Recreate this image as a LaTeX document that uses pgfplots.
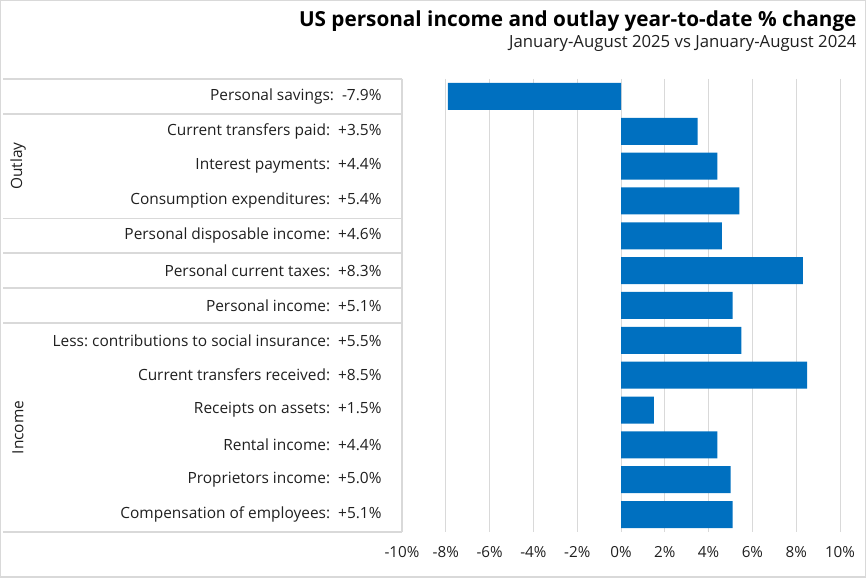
\documentclass[border=0pt]{standalone}
\usepackage{pgfplots}
\pgfplotsset{compat=1.18}
\usepackage{fontspec}
\setmainfont{Open Sans}
\frenchspacing
\definecolor{barblue}{HTML}{0070C0}
\definecolor{gridgray}{HTML}{D9D9D9}
\definecolor{txt}{HTML}{1F1F1F}

\begin{document}
\begin{tikzpicture}[x=1bp,y=1bp]
% outer chart border
\draw[gridgray, line width=1.5bp] (0.75,0.75) rectangle (865.25,577.25);
\node[anchor=east, font=\fontsize{20.8}{24}\selectfont\bfseries] at (860,557) {US personal income and outlay year-to-date \% change};
\node[anchor=east, text=txt, font=\fontsize{16.8}{20}\selectfont] at (860,535) {January-August 2025 vs January-August 2024};
\begin{axis}[
  at={(402bp,46bp)}, anchor=south west,
  scale only axis, width=438bp, height=453bp,
  xbar, bar width=27bp,
  xmin=-10, xmax=10, ymin=0.5, ymax=13.5,
  y dir=reverse,
  axis line style={draw=none},
  major tick length=0pt,
  xtick={-10,-8,-6,-4,-2,0,2,4,6,8,10},
  xticklabels={-10\%,-8\%,-6\%,-4\%,-2\%,0\%,2\%,4\%,6\%,8\%,10\%},
  xticklabel style={text=txt, font=\fontsize{15.3}{18}\selectfont, yshift=-11bp},
  xmajorgrids, grid style={gridgray, line width=1bp},
  ytick={1,...,13},
  yticklabels={
    {Personal savings:\ \ -7.9\%},
    {Current transfers paid:\ \ +3.5\%},
    {Interest payments:\ \ +4.4\%},
    {Consumption expenditures:\ \ +5.4\%},
    {Personal disposable income:\ \ +4.6\%},
    {Personal current taxes:\ \ +8.3\%},
    {Personal income:\ \ +5.1\%},
    {Less: contributions to social insurance:\ \ +5.5\%},
    {Current transfers received:\ \ +8.5\%},
    {Receipts on assets:\ \ +1.5\%},
    {Rental income:\ \ +4.4\%},
    {Proprietors income:\ \ +5.0\%},
    {Compensation of employees:\ \ +5.1\%}},
  yticklabel style={text=txt, font=\fontsize{15.5}{18}\selectfont, anchor=east, xshift=-17bp},
  clip=false,
]
\addplot[fill=barblue, draw=none] coordinates {
  (-7.9,1) (3.5,2) (4.4,3) (5.4,4) (4.6,5) (8.3,6) (5.1,7)
  (5.5,8) (8.5,9) (1.5,10) (4.4,11) (5.0,12) (5.1,13)
};
% category frame
\pgfplotsinvokeforeach{0.5,1.5,4.5,5.5,6.5,7.5,13.5}{
  \draw[gridgray, line width=1.5bp] (axis cs:-10,#1) -- ([xshift=-399bp]axis cs:-10,#1);
}
\draw[gridgray, line width=1.5bp] (axis cs:-10,0.5) -- (axis cs:-10,13.5);
\node[rotate=90, text=txt, font=\fontsize{15.5}{18}\selectfont] at ([xshift=-384bp]axis cs:-10,3) {Outlay};
\node[rotate=90, text=txt, font=\fontsize{15.5}{18}\selectfont] at ([xshift=-384bp]axis cs:-10,10.5) {Income};
\end{axis}
\end{tikzpicture}
\end{document}
